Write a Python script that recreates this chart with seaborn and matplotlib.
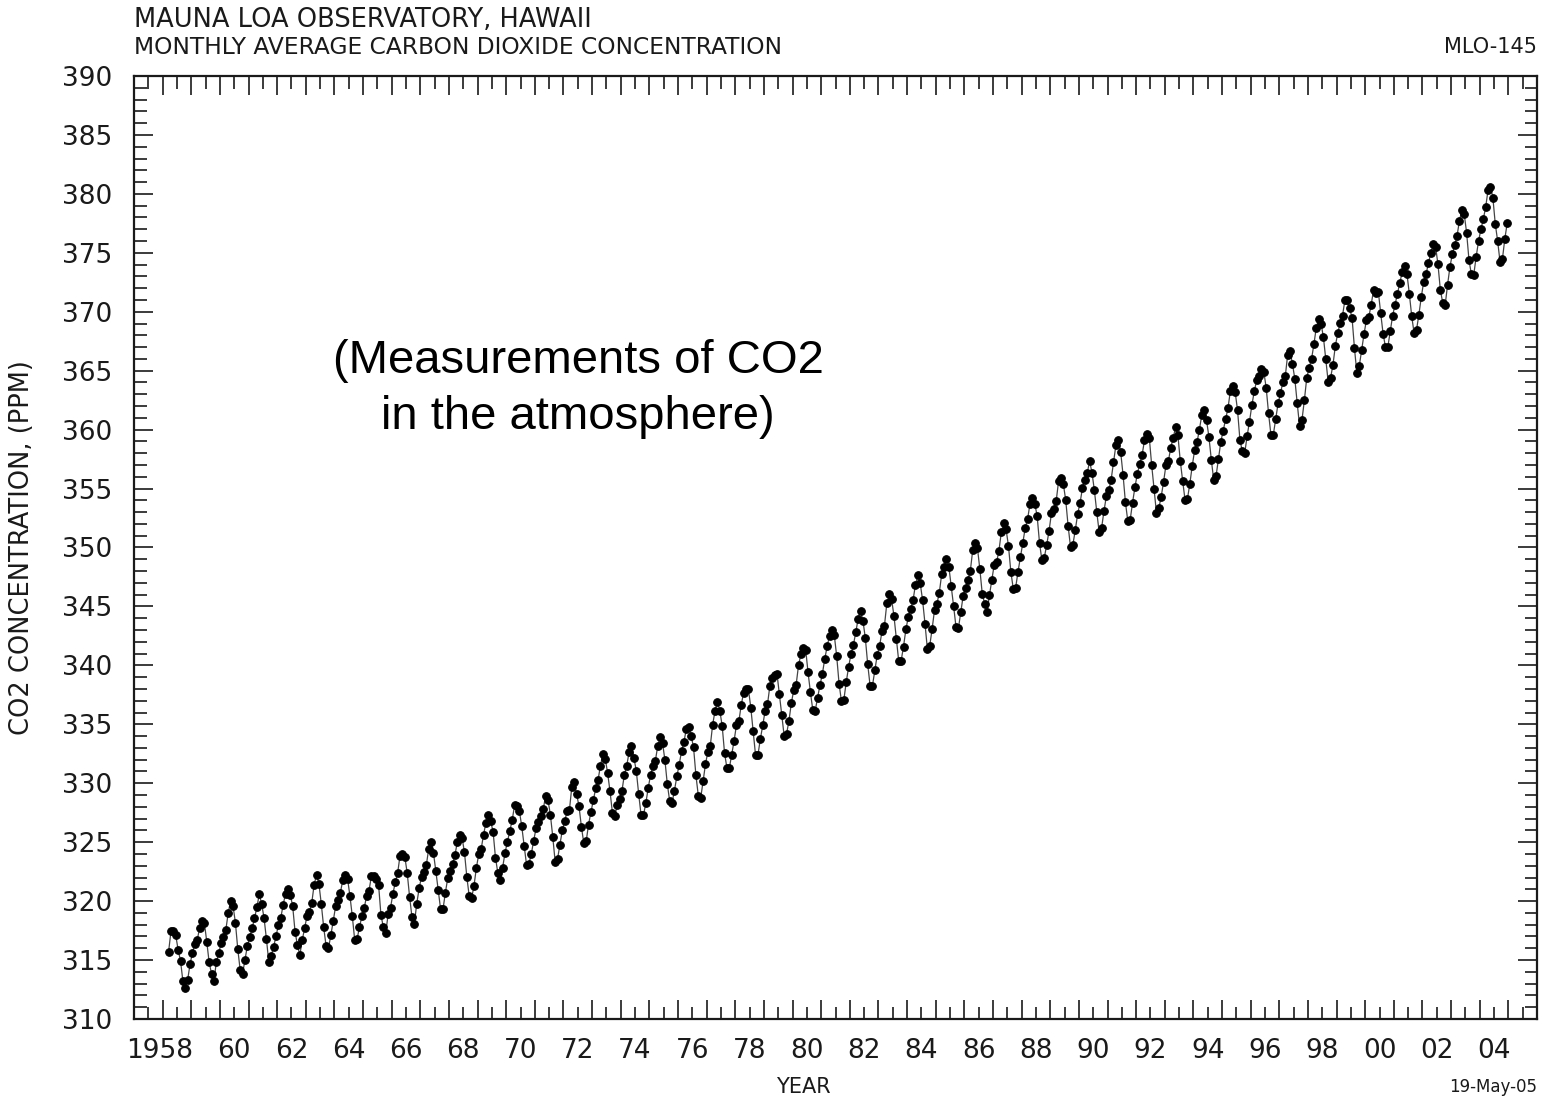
import numpy as np
import pandas as pd
import seaborn as sns
import matplotlib
matplotlib.use("Agg")
import matplotlib.pyplot as plt
from matplotlib.transforms import ScaledTranslation

# Monthly mean CO2 (ppm), Mauna Loa, March 1958 .. December 2004
co2_1958_59 = [315.71, 317.45, 317.50, 317.10, 315.86, 314.93, 313.20, 312.66, 313.33, 314.67,
               315.62, 316.38, 316.71, 317.72, 318.29, 318.15, 316.54, 314.80, 313.84, 313.26, 314.80, 315.58]
co2_1960s = [316.43, 316.97, 317.58, 319.02, 320.03, 319.59, 318.18, 315.91, 314.16, 313.83, 315.00, 316.19,
             316.93, 317.70, 318.54, 319.48, 320.58, 319.77, 318.57, 316.79, 314.80, 315.38, 316.10, 317.01,
             317.94, 318.56, 319.68, 320.63, 321.01, 320.55, 319.58, 317.40, 316.26, 315.42, 316.69, 317.69,
             318.74, 319.08, 319.86, 321.39, 322.25, 321.47, 319.74, 317.77, 316.21, 315.99, 317.12, 318.31,
             319.57, 320.07, 320.73, 321.77, 322.25, 321.89, 320.44, 318.70, 316.70, 316.79, 317.79, 318.71,
             319.44, 320.44, 320.89, 322.13, 322.16, 321.87, 321.39, 318.80, 317.81, 317.30, 318.87, 319.42,
             320.62, 321.59, 322.39, 323.87, 324.01, 323.75, 322.39, 320.37, 318.64, 318.10, 319.79, 321.08,
             322.07, 322.50, 323.04, 324.42, 325.00, 324.09, 322.55, 320.92, 319.31, 319.31, 320.72, 321.96,
             322.57, 323.15, 323.89, 325.02, 325.57, 325.36, 324.14, 322.03, 320.41, 320.25, 321.31, 322.84,
             324.00, 324.42, 325.64, 326.66, 327.34, 326.76, 325.88, 323.67, 322.38, 321.78, 322.85, 324.11]
co2_1970s = [325.03, 325.99, 326.87, 328.13, 328.07, 327.66, 326.35, 324.69, 323.10, 323.16, 323.98, 325.13,
             326.17, 326.68, 327.18, 327.78, 328.92, 328.57, 327.34, 325.46, 323.36, 323.57, 324.80, 326.01,
             326.77, 327.63, 327.75, 329.72, 330.07, 329.09, 328.05, 326.32, 324.93, 325.06, 326.50, 327.55,
             328.54, 329.56, 330.30, 331.50, 332.48, 332.07, 330.87, 329.31, 327.51, 327.18, 328.16, 328.64,
             329.35, 330.71, 331.48, 332.65, 333.20, 332.16, 331.07, 329.12, 327.32, 327.28, 328.30, 329.58,
             330.73, 331.46, 331.90, 333.17, 333.94, 333.45, 331.97, 329.95, 328.50, 328.34, 329.37, 330.58,
             331.59, 332.75, 333.52, 334.64, 334.77, 334.00, 333.06, 330.68, 328.95, 328.75, 330.15, 331.62,
             332.66, 333.13, 334.95, 336.13, 336.93, 336.17, 334.88, 332.56, 331.29, 331.27, 332.41, 333.60,
             334.95, 335.25, 336.66, 337.69, 338.03, 338.01, 336.41, 334.41, 332.37, 332.41, 333.75, 334.90,
             336.14, 336.69, 338.27, 338.96, 339.21, 339.26, 337.54, 335.75, 333.98, 334.19, 335.31, 336.81]
co2_1980s = [337.90, 338.34, 340.01, 340.93, 341.48, 341.33, 339.40, 337.70, 336.19, 336.15, 337.27, 338.32,
             339.29, 340.55, 341.61, 342.53, 343.03, 342.54, 340.78, 338.44, 336.95, 337.08, 338.58, 339.88,
             340.96, 341.73, 342.81, 343.97, 344.63, 343.79, 342.32, 340.09, 338.28, 338.29, 339.60, 340.90,
             341.68, 342.90, 343.33, 345.25, 346.03, 345.63, 344.19, 342.27, 340.35, 340.38, 341.59, 343.05,
             344.10, 344.79, 345.52, 346.84, 347.63, 346.97, 345.53, 343.55, 341.40, 341.67, 343.10, 344.70,
             345.21, 346.16, 347.74, 348.33, 349.06, 348.38, 346.72, 345.02, 343.27, 343.13, 344.49, 345.88,
             346.56, 347.28, 348.01, 349.77, 350.38, 349.93, 348.16, 346.08, 345.22, 344.51, 345.93, 347.22,
             348.52, 348.73, 349.73, 351.31, 352.09, 351.53, 350.11, 347.92, 346.52, 346.59, 347.96, 349.16,
             350.39, 351.64, 352.40, 353.69, 354.21, 353.72, 352.69, 350.40, 348.92, 349.13, 350.20, 351.41,
             352.91, 353.27, 353.96, 355.64, 355.86, 355.37, 353.99, 351.81, 350.05, 350.25, 351.49, 352.85]
co2_1990s = [353.80, 355.04, 355.73, 356.32, 357.32, 356.34, 354.84, 353.01, 351.31, 351.62, 353.07, 354.33,
             354.84, 355.73, 357.23, 358.66, 359.13, 358.13, 356.19, 353.85, 352.25, 352.35, 353.81, 355.12,
             356.25, 357.11, 357.86, 359.09, 359.59, 359.33, 357.01, 354.94, 352.96, 353.32, 354.32, 355.57,
             357.00, 357.31, 358.47, 359.27, 360.19, 359.52, 357.33, 355.64, 354.03, 354.12, 355.41, 356.91,
             358.24, 358.92, 359.99, 361.23, 361.65, 360.81, 359.38, 357.46, 355.73, 356.07, 357.53, 358.98,
             359.92, 360.86, 361.83, 363.30, 363.69, 363.19, 361.64, 359.12, 358.17, 357.99, 359.45, 360.68,
             362.07, 363.24, 364.17, 364.57, 365.13, 364.92, 363.55, 361.38, 359.54, 359.58, 360.89, 362.24,
             363.09, 364.03, 364.51, 366.35, 366.64, 365.59, 364.31, 362.25, 360.29, 360.82, 362.49, 364.38,
             365.26, 365.98, 367.24, 368.66, 369.42, 368.99, 367.82, 365.95, 364.02, 364.40, 365.52, 367.13,
             368.18, 369.07, 369.68, 370.99, 370.96, 370.30, 369.45, 366.90, 364.81, 365.37, 366.72, 368.10]
co2_2000s = [369.29, 369.54, 370.60, 371.82, 371.58, 371.70, 369.86, 368.13, 367.00, 367.03, 368.37, 369.67,
             370.59, 371.51, 372.43, 373.37, 373.85, 373.21, 371.51, 369.61, 368.18, 368.45, 369.76, 371.24,
             372.53, 373.20, 374.12, 375.02, 375.76, 375.52, 374.01, 371.85, 370.75, 370.55, 372.25, 373.79,
             374.88, 375.64, 376.45, 377.73, 378.60, 378.28, 376.70, 374.38, 373.17, 373.15, 374.66, 375.99,
             377.00, 377.87, 378.88, 380.35, 380.62, 379.69, 377.47, 376.01, 374.25, 374.46, 376.16, 377.51]

co2 = co2_1958_59 + co2_1960s + co2_1970s + co2_1980s + co2_1990s + co2_2000s
# mid-month decimal dates starting March 1958
months = np.arange(len(co2)) + 2
df = pd.DataFrame({"year": 1958 + (months + 0.5) / 12, "co2": co2})

sns.set_theme(style="ticks")
plt.rcParams["font.family"] = ["DejaVu Sans"]
ink = "#1a1a1a"

fig = plt.figure(figsize=(15.47, 11.0), dpi=100)
ax = fig.add_axes([134 / 1547, 81 / 1100, 1403 / 1547, 943 / 1100])

sns.lineplot(data=df, x="year", y="co2", ax=ax, estimator=None, sort=False,
             color="#444444", linewidth=0.9, marker="o", markersize=5.5,
             markerfacecolor="black", markeredgecolor="black")

ax.set_xlim(1957, 2006)
ax.set_ylim(310, 390)

# x axis: tall ticks at year boundaries, short ticks mid-year carry the labels
ax.set_xticks(np.arange(1957, 2007), labels=[""] * 50)
mid_years = np.arange(1957, 2006)
xlabels = ["1958" if y == 1958 else (f"{y % 100:02d}" if y % 2 == 0 else "") for y in mid_years]
ax.set_xticks(mid_years + 0.5, labels=xlabels, minor=True)

ax.set_yticks(np.arange(310, 391, 5))
ax.set_yticks(np.arange(310, 391, 1), minor=True)

ax.tick_params(which="both", direction="in", top=True, right=True, color=ink, width=1.2)
ax.tick_params(which="major", length=14)
ax.tick_params(which="minor", length=9)
ax.tick_params(axis="y", which="major", labelsize=19, pad=16, labelcolor=ink)
ax.tick_params(axis="x", which="minor", labelsize=19, pad=14, labelcolor=ink)

# "1958": keep the "58" part over its tick
for lab in ax.get_xticklabels(minor=True):
    if lab.get_text() == "1958":
        lab.set_transform(lab.get_transform() + ScaledTranslation(-0.17, 0, fig.dpi_scale_trans))

for s in ax.spines.values():
    s.set_color(ink)
    s.set_linewidth(1.6)

ax.set_ylabel("CO2 CONCENTRATION, (PPM)", fontsize=18.5, color=ink)
ax.yaxis.set_label_coords(-0.0705, 0.5)
ax.set_xlabel("YEAR", fontsize=15, color=ink)
ax.xaxis.set_label_coords(0.477, -0.062)

fig.text(134 / 1547, 1 - 20 / 1100, "MAUNA LOA OBSERVATORY, HAWAII", fontsize=18.5,
         color=ink, va="center", ha="left")
fig.text(134 / 1547, 1 - 47 / 1100, "MONTHLY AVERAGE CARBON DIOXIDE CONCENTRATION", fontsize=16.8,
         color=ink, va="center", ha="left")
fig.text(1537 / 1547, 1 - 47 / 1100, "MLO-145", fontsize=15, color=ink, va="center", ha="right")
fig.text(1537 / 1547, 1 - 1087 / 1100, "19-May-05", fontsize=12, color=ink, va="center", ha="right")

ax.text(0.3165, 0.668, "(Measurements of CO2\nin the atmosphere)", transform=ax.transAxes,
        fontsize=34, family=["Liberation Sans", "DejaVu Sans"], color="black",
        ha="center", va="center", linespacing=1.35)

fig.savefig("out.png", dpi=100)
